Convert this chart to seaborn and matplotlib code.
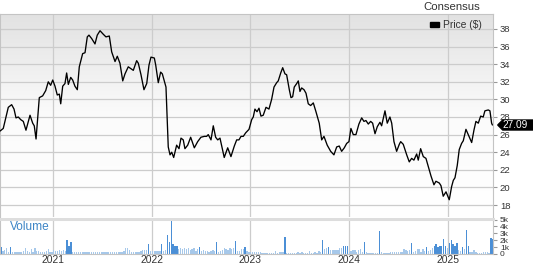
import numpy as np
import pandas as pd
import matplotlib
matplotlib.use("Agg")
import matplotlib.pyplot as plt
import seaborn as sns
from matplotlib.path import Path
from matplotlib.patches import Patch
from matplotlib.colors import LinearSegmentedColormap

# ---------------- data ----------------
price_year = [
    2020.463, 2020.496, 2020.524, 2020.547, 2020.581, 2020.605, 2020.625, 2020.648, 2020.673, 2020.699,
    2020.726, 2020.767, 2020.794, 2020.810, 2020.828, 2020.861, 2020.895, 2020.926, 2020.952, 2020.976,
    2020.997, 2021.020, 2021.043, 2021.064, 2021.078, 2021.098, 2021.121, 2021.138, 2021.155, 2021.179,
    2021.199, 2021.222, 2021.246, 2021.266, 2021.300, 2021.324, 2021.347, 2021.364, 2021.392, 2021.425,
    2021.448, 2021.476, 2021.509, 2021.536, 2021.570, 2021.594, 2021.628, 2021.651, 2021.678, 2021.706,
    2021.729, 2021.762, 2021.813, 2021.847, 2021.864, 2021.891, 2021.921, 2021.949, 2021.972, 2021.992,
    2022.026, 2022.040, 2022.066, 2022.090, 2022.107, 2022.127, 2022.144, 2022.167, 2022.185, 2022.202,
    2022.222, 2022.252, 2022.276, 2022.296, 2022.319, 2022.336, 2022.364, 2022.394, 2022.431, 2022.465,
    2022.498, 2022.532, 2022.556, 2022.572, 2022.600, 2022.623, 2022.647, 2022.668, 2022.691, 2022.734,
    2022.769, 2022.802, 2022.836, 2022.860, 2022.883, 2022.904, 2022.927, 2022.951, 2022.985, 2023.012,
    2023.028, 2023.045, 2023.066, 2023.086, 2023.106, 2023.129, 2023.157, 2023.187, 2023.214, 2023.238,
    2023.265, 2023.281, 2023.306, 2023.326, 2023.349, 2023.366, 2023.393, 2023.410, 2023.427, 2023.443,
    2023.468, 2023.484, 2023.501, 2023.518, 2023.542, 2023.562, 2023.585, 2023.609, 2023.636, 2023.663,
    2023.696, 2023.721, 2023.744, 2023.777, 2023.812, 2023.845, 2023.873, 2023.899, 2023.923, 2023.950,
    2023.974, 2023.997, 2024.017, 2024.041, 2024.068, 2024.098, 2024.126, 2024.149, 2024.169, 2024.193,
    2024.217, 2024.237, 2024.261, 2024.284, 2024.311, 2024.328, 2024.362, 2024.385, 2024.412, 2024.430,
    2024.453, 2024.480, 2024.507, 2024.521, 2024.547, 2024.582, 2024.608, 2024.632, 2024.655, 2024.683,
    2024.699, 2024.723, 2024.750, 2024.777, 2024.800, 2024.828, 2024.858, 2024.878, 2024.912, 2024.929,
    2024.952, 2024.980, 2025.013, 2025.037, 2025.054, 2025.071, 2025.094, 2025.114, 2025.138, 2025.155,
    2025.182, 2025.205, 2025.240, 2025.263, 2025.283, 2025.307, 2025.331, 2025.357, 2025.374, 2025.408,
    2025.425, 2025.442, 2025.450,
]
price_val = [
    26.4, 26.7, 28.0, 29.1, 29.4, 28.9, 27.9, 28.0, 27.7, 27.5,
    26.5, 28.2, 27.3, 27.0, 25.5, 30.2, 30.4, 31.0, 32.0, 31.6,
    32.2, 31.5, 30.5, 30.6, 29.5, 31.5, 31.8, 33.0, 31.7, 32.5,
    32.2, 31.5, 31.1, 33.7, 35.2, 35.3, 37.1, 37.3, 36.9, 36.3,
    37.3, 37.8, 37.4, 37.1, 37.2, 35.4, 34.3, 34.9, 34.1, 32.1,
    32.9, 33.7, 33.3, 34.4, 34.1, 32.8, 31.1, 31.8, 33.9, 34.8,
    34.7, 33.9, 31.9, 33.1, 32.9, 32.1, 31.4, 24.6, 23.7, 24.0,
    23.4, 24.8, 24.4, 25.6, 25.4, 24.4, 24.8, 25.7, 24.5, 25.2,
    25.7, 25.8, 25.8, 26.0, 25.4, 27.0, 25.7, 25.4, 25.6, 23.4,
    24.5, 23.5, 24.7, 25.4, 25.4, 25.8, 25.8, 26.2, 26.6, 27.7,
    28.0, 28.9, 28.6, 29.0, 28.1, 28.2, 29.1, 28.9, 30.0, 31.4,
    31.9, 32.1, 33.0, 33.6, 32.9, 32.8, 31.1, 30.2, 30.3, 31.4,
    31.8, 32.1, 30.9, 31.3, 31.1, 30.7, 29.5, 29.3, 29.6, 28.6,
    27.3, 25.4, 25.8, 24.8, 24.1, 23.7, 24.6, 24.7, 24.1, 24.5,
    25.0, 25.2, 26.7, 26.0, 26.0, 27.2, 27.9, 27.5, 27.6, 27.2,
    27.5, 27.3, 26.1, 26.9, 27.4, 27.0, 28.7, 27.3, 28.0, 27.3,
    25.2, 24.1, 24.9, 25.2, 24.9, 23.7, 22.9, 23.3, 23.1, 23.8,
    23.1, 24.4, 23.5, 23.3, 22.4, 21.3, 20.3, 20.7, 20.5, 20.2,
    19.0, 19.5, 18.6, 20.1, 20.8, 21.1, 22.5, 24.3, 25.0, 25.3,
    26.6, 26.0, 25.1, 26.5, 27.5, 27.3, 28.1, 28.0, 28.7, 28.8,
    28.7, 27.3, 27.09,
]
last_price = 27.09

# weekly volume (thousands), starting week of 2020-06-22
vol_start = "2020-06-22"
volume_k = [
    1.05, 0.4, 0.6, 0.85, 0.35, 1.0, 0.35, 0.3, 0.35, 0.3,
    0.35, 0.3, 0.4, 0.85, 0.4, 0.35, 0.7, 0.35, 0.85, 0.4,
    0.4, 0.35, 0.35, 0.3, 0.4, 0.7, 0.35, 0.3, 0.6, 0.4,
    0.4, 0.6, 0.4, 0.6, 0.5, 2.0, 1.1, 1.7, 0.35, 0.35,
    0.3, 0.3, 0.25, 0.35, 0.3, 0.3, 0.35, 0.3, 0.25, 0.3,
    0.3, 0.35, 0.3, 0.3, 0.25, 0.3, 0.35, 0.3, 0.3, 0.35,
    0.3, 0.35, 0.3, 0.3, 0.35, 0.4, 0.85, 0.85, 0.6, 0.35,
    0.3, 0.35, 0.3, 0.3, 0.5, 0.6, 0.6, 0.55, 1.5, 0.4,
    0.45, 0.45, 0.4, 0.45, 0.45, 1.4, 0.5, 0.6, 2.8, 1.7,
    4.85, 1.4, 1.2, 1.1, 0.7, 0.85, 0.7, 0.85, 0.7, 0.85,
    0.6, 0.7, 0.85, 0.45, 0.7, 1.0, 0.45, 0.6, 0.45, 0.4,
    0.35, 0.4, 0.6, 0.5, 1.7, 0.35, 0.45, 0.55, 0.85, 0.7,
    0.6, 0.85, 0.7, 0.85, 1.9, 0.45, 0.45, 0.7, 0.75, 1.0,
    0.5, 0.25, 0.35, 0.35, 0.3, 0.25, 0.3, 0.25, 0.15, 0.2,
    0.15, 0.2, 0.15, 0.2, 0.15, 0.45, 0.2, 0.25, 0.35, 0.25,
    2.4, 0.2, 0.2, 0.2, 0.2, 0.15, 0.2, 0.25, 0.2, 0.25,
    0.2, 0.2, 0.2, 0.45, 0.2, 0.2, 0.35, 0.2, 0.45, 0.25,
    2.05, 0.7, 0.85, 0.95, 0.6, 0.6, 0.55, 0.6, 0.6, 0.85,
    0.85, 1.2, 1.2, 1.15, 0.35, 0.5, 0.6, 0.6, 0.35, 0.6,
    0.7, 0.25, 1.8, 0.25, 0.2, 0.15, 0.15, 0.15, 0.15, 0.2,
    3.4, 0.25, 0.15, 0.15, 0.15, 0.2, 0.25, 0.25, 0.25, 0.35,
    0.25, 0.25, 0.3, 0.7, 0.6, 0.45, 0.6, 1.55, 0.35, 0.45,
    0.75, 0.75, 0.35, 0.7, 0.45, 1.0, 0.45, 0.6, 0.85, 1.1,
    1.4, 1.0, 1.1, 1.2, 2.15, 1.1, 0.85, 1.55, 2.05, 1.45,
    1.1, 1.55, 0.6, 0.45, 0.95, 0.7, 3.5, 1.1, 0.25, 0.35,
    0.6, 0.35, 0.2, 0.2, 0.2, 0.35, 0.25, 0.25, 0.2, 2.3, 2.2,
]

years = [2021, 2022, 2023, 2024, 2025]
price_ticks = list(range(18, 40, 2))
vol_ticks = [0, 1, 2, 3, 4, 5]
x_range = (2020.463, 2025.456)

# ---------------- style ----------------
sns.set_theme(style="white")
plt.rcParams["font.family"] = ["Liberation Sans", "DejaVu Sans"]

GRID = "#cccccc"
SPINE = "#c4c4c4"
TXT = "#333333"


def to_year(dates):
    dates = pd.DatetimeIndex(dates)
    start = pd.to_datetime(dates.year.astype(str) + "-01-01")
    end = pd.to_datetime((dates.year + 1).astype(str) + "-01-01")
    return np.asarray(dates.year + (dates - start) / (end - start), dtype=float)


vol_year = to_year(pd.date_range(vol_start, periods=len(volume_k), freq="7D"))

fig = plt.figure(figsize=(5.33, 2.64), dpi=100)
W, H = 533.0, 264.0
ax = fig.add_axes([0.0, 1 - 217 / H, 493 / W, (217 - 14) / H])
axv = fig.add_axes([0.0, 1 - 254 / H, 493 / W, (254 - 218.5) / H])

# gradient background of the price panel
cmap = LinearSegmentedColormap.from_list("bg", ["#ffffff", "#fbfbfb", "#e2e2e2"])
ax.imshow(np.linspace(0, 1, 256).reshape(-1, 1), cmap=cmap, origin="lower",
          extent=(0, 1, 0, 1), transform=ax.transAxes, aspect="auto", zorder=0)

df = pd.DataFrame({"year": price_year, "price": price_val})
sns.lineplot(data=df, x="year", y="price", ax=ax, color="black", lw=0.95,
             sort=False, estimator=None, zorder=3)

ax.set_xlim(*x_range)
ax.set_ylim(16.64, 39.70)
ax.set_yticks(price_ticks)
ax.set_xticks(years)
ax.grid(True, color=GRID, lw=0.9, zorder=1)
ax.set_axisbelow(True)
ax.set_xlabel("")
ax.set_ylabel("")
ax.tick_params(axis="y", left=False, right=True, labelleft=False, labelright=True,
               length=3, width=0.8, color="#999999", labelcolor=TXT, labelsize=6.8, pad=2)
ax.tick_params(axis="x", bottom=False, labelbottom=False, length=0)
for s in ["top", "right", "left"]:
    ax.spines[s].set_color(SPINE)
    ax.spines[s].set_linewidth(0.8)
ax.spines["bottom"].set_visible(False)

# last price tag
def tag_box(x0, y0, width, height, mutation_size):
    tip = height / 2.0
    right = x0 + width + mutation_size * 0.6
    verts = [(x0 - tip, y0 + height / 2), (x0, y0), (right, y0), (right, y0 + height),
             (x0, y0 + height), (x0 - tip, y0 + height / 2)]
    codes = [Path.MOVETO] + [Path.LINETO] * 4 + [Path.CLOSEPOLY]
    return Path(verts, codes)

ax.annotate(f"{last_price:.2f}", xy=(1.0, last_price), xycoords=("axes fraction", "data"),
            xytext=(7.0, 0), textcoords="offset points", ha="left", va="center",
            color="white", fontsize=7.3, zorder=6, annotation_clip=False,
            bbox=dict(boxstyle=tag_box, fc="black", ec="black", pad=0.32))

# legend & title
leg = ax.legend(handles=[Patch(facecolor="black", edgecolor="black", label="Price ($)")],
                loc="center right", bbox_to_anchor=(482 / W, 1 - 25 / H),
                bbox_transform=fig.transFigure, frameon=False, fontsize=7.4,
                handlelength=0.9, handleheight=0.35, handletextpad=0.4,
                borderpad=0, borderaxespad=0)
for t in leg.get_texts():
    t.set_color(TXT)
fig.text(452 / W, 1 - 6.5 / H, "Consensus", ha="center", va="center",
         fontsize=8.2, color=TXT)

# volume panel
colors = ["#4b8fd6" if v >= 0.9 else "#a6c8ea" for v in volume_k]
axv.bar(vol_year, volume_k, width=0.7 * 7 / 365.25, color=colors, linewidth=0, zorder=2)
axv.set_xlim(*x_range)
axv.set_ylim(0, 5.15)
axv.set_yticks(vol_ticks)
axv.set_yticklabels(["0" if v == 0 else f"{v}k" for v in vol_ticks])
axv.set_xticks(years)
axv.set_xticklabels([str(y) for y in years])
axv.grid(True, axis="x", color=GRID, lw=0.9, zorder=1)
axv.grid(False, axis="y")
axv.set_axisbelow(True)
axv.tick_params(axis="y", left=False, right=True, labelleft=False, labelright=True,
                length=3, width=0.8, color="#999999", labelcolor=TXT, labelsize=6.0, pad=2)
axv.tick_params(axis="x", bottom=False, length=0, labelsize=7.4, labelcolor=TXT, pad=0.8)
for s in ["right", "left", "bottom"]:
    axv.spines[s].set_color(SPINE)
    axv.spines[s].set_linewidth(0.8)
axv.spines["top"].set_color("#dddddd")
axv.spines["top"].set_linewidth(2.2)
axv.text(10 / 493, 0.75, "Volume", transform=axv.transAxes, ha="left",
         va="center", fontsize=8.6, color="#3d85c6")

fig.savefig("out.png", dpi=100, facecolor="white")
